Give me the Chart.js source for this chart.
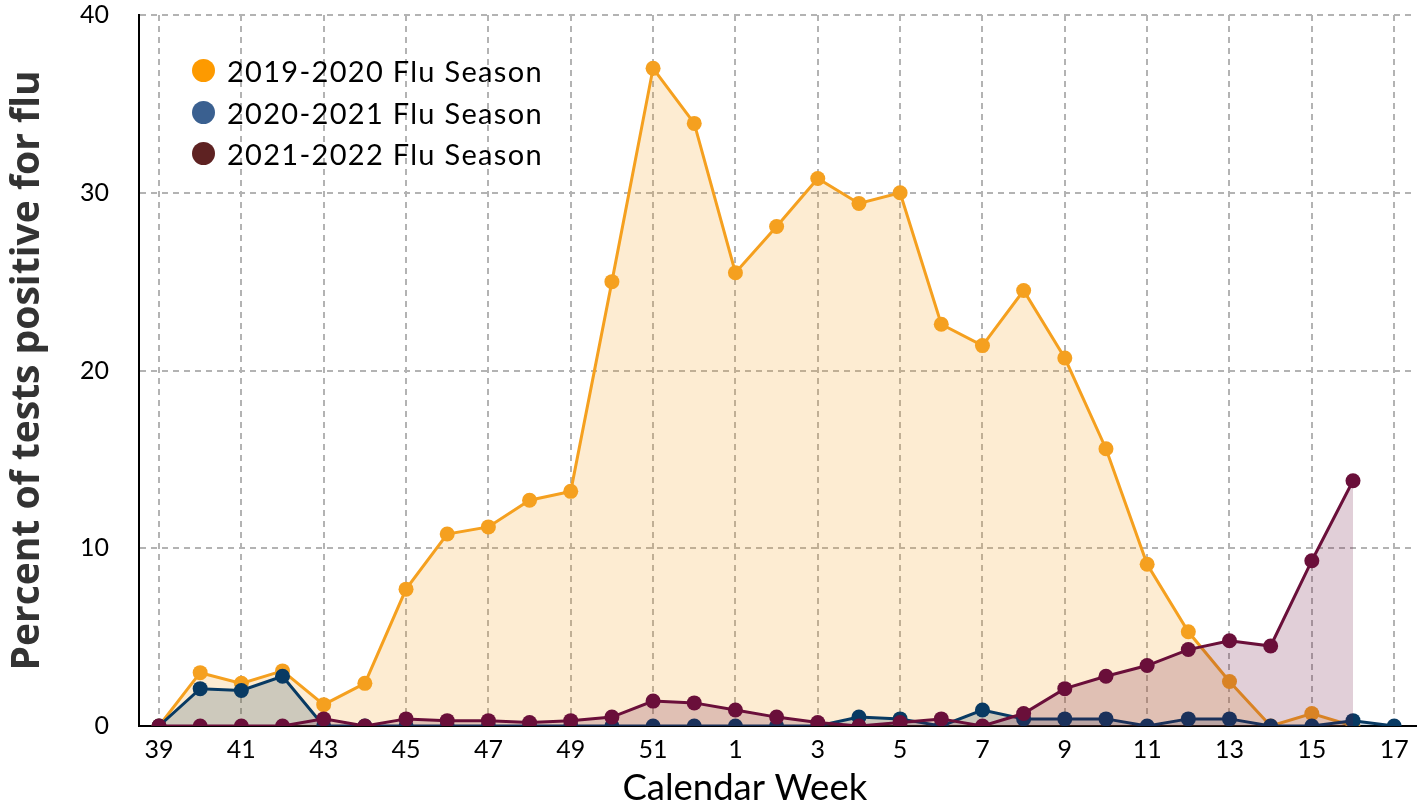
<!DOCTYPE html>
<html>
<head>
<meta charset="utf-8">
<script src="https://cdn.jsdelivr.net/npm/chart.js@4/dist/chart.umd.min.js"></script>
<style>
    body { margin: 0; background: #fff; }
    #chart_area { position: relative; width: 1424px; height: 806px; }
    #legend_area {
        position: absolute; left: 192px; top: 50px;
        font-family: Lato, sans-serif; font-size: 29px; letter-spacing: 1.3px; color: #000;
    }
    .legend_row { display: flex; align-items: center; height: 41.5px; }
    .legend_dot { width: 23px; height: 23px; border-radius: 50%; margin-right: 12px; }
</style>
</head>
<body>
<div id="chart_area">
    <canvas id="flu_chart"></canvas>
    <div id="legend_area"></div>
</div>
<script>
// Calendar weeks of the flu season (week 39 through week 17)
var weeks = [39, 40, 41, 42, 43, 44, 45, 46, 47, 48, 49, 50, 51, 52,
    1, 2, 3, 4, 5, 6, 7, 8, 9, 10, 11, 12, 13, 14, 15, 16, 17];

// Percent of tests positive for flu, per season
var season2019 = [0, 3.0, 2.4, 3.1, 1.2, 2.4, 7.7, 10.8, 11.2, 12.7, 13.2, 25.0, 37.0, 33.9,
    25.5, 28.1, 30.8, 29.4, 30.0, 22.6, 21.4, 24.5, 20.7, 15.6, 9.1, 5.3, 2.5, 0, 0.7, 0, null];
var season2020 = [0, 2.1, 2.0, 2.8, 0, 0, 0, 0, 0, 0, 0, 0, 0, 0,
    0, 0, 0, 0.5, 0.4, 0, 0.9, 0.4, 0.4, 0.4, 0, 0.4, 0.4, 0, 0, 0.3, 0];
var season2021 = [0, 0, 0, 0, 0.4, 0, 0.4, 0.3, 0.3, 0.2, 0.3, 0.5, 1.4, 1.3,
    0.9, 0.5, 0.2, 0, 0.2, 0.4, 0, 0.7, 2.1, 2.8, 3.4, 4.3, 4.8, 4.5, 9.3, 13.8, null];

var seasonNames = ["2019-2020 Flu Season", "2020-2021 Flu Season", "2021-2022 Flu Season"];
var lineColors = ["#f5a01f", "#083a63", "#6a0f3a"];
var fillColors = ["rgba(245,160,31,0.2)", "rgba(8,58,99,0.2)", "rgba(106,15,58,0.2)"];
var legendColors = ["#fd9a00", "#3a6090", "#5e2222"];

/**
 * Turns a list of values into points placed at the week index.
 */
function to_points(values) {
    return values.map(function (v, i) {
        return { x: i, y: v };
    });
}

/**
 * Builds the legend that sits in the top left of the plot.
 */
function build_legend() {
    const legendArea = document.getElementById("legend_area");
    for (var i = 0; i < seasonNames.length; i++) {
        const row = document.createElement("div");
        const dot = document.createElement("span");
        const text = document.createElement("span");
        row.className = "legend_row";
        dot.className = "legend_dot";
        dot.style.background = legendColors[i];
        text.innerText = seasonNames[i];
        row.appendChild(dot);
        row.appendChild(text);
        legendArea.appendChild(row);
    }
}

// Stops the tick labels from pushing the plot area inwards
function no_edge_padding(scale) {
    scale.paddingTop = 0;
    scale.paddingBottom = 0;
    scale.paddingLeft = 0;
    scale.paddingRight = 0;
}

var allSeasons = [season2019, season2020, season2021];
var datasets = [];
for (var i = 0; i < allSeasons.length; i++) {
    datasets.push({
        label: seasonNames[i],
        data: to_points(allSeasons[i]),
        borderColor: lineColors[i],
        backgroundColor: fillColors[i],
        pointBackgroundColor: lineColors[i],
        pointBorderWidth: 0,
        pointRadius: 7.5,
        borderWidth: 3,
        fill: "origin",
        // later seasons sit on top
        order: allSeasons.length - i
    });
}

new Chart("flu_chart", {
    type: "line",
    data: { datasets: datasets },
    options: {
        responsive: true,
        maintainAspectRatio: false,
        animation: false,
        layout: { padding: { top: 15, right: 8, left: 4, bottom: 0 } },
        plugins: {
            legend: { display: false },
            tooltip: { enabled: false },
            filler: { drawTime: "beforeDatasetDraw" }
        },
        scales: {
            x: {
                type: "linear",
                min: -0.486,
                max: 30.53,
                afterFit: no_edge_padding,
                grid: { color: "#b3b3b3", lineWidth: 2, drawTicks: false },
                border: { color: "#000", width: 2, dash: [6, 5] },
                ticks: {
                    stepSize: 2,
                    includeBounds: false,
                    autoSkip: false,
                    maxRotation: 0,
                    padding: 9,
                    color: "#000",
                    font: { family: "Lato", size: 25 },
                    callback: function (value) { return weeks[value]; }
                },
                title: {
                    display: true,
                    // trailing spaces nudge the title a little left, as in the original
                    text: "Calendar Week\u00a0\u00a0\u00a0\u00a0\u00a0\u00a0\u00a0",
                    color: "#000",
                    font: { family: "Lato", size: 36.5, lineHeight: 1 },
                    padding: { top: -4.5, bottom: 0 }
                }
            },
            y: {
                min: 0,
                max: 40,
                afterFit: no_edge_padding,
                grid: { color: "#b3b3b3", lineWidth: 2, drawTicks: false },
                border: { color: "#000", width: 2, dash: [6, 5] },
                ticks: {
                    stepSize: 10,
                    padding: 30,
                    color: "#000",
                    font: { family: "Lato", size: 25 }
                },
                title: {
                    display: true,
                    text: "Percent of tests positive for flu",
                    color: "#333",
                    font: { family: "Open Sans", size: 39, weight: "bold", lineHeight: 1 },
                    padding: { top: 4, bottom: 3 }
                }
            }
        }
    }
});

build_legend();
</script>
</body>
</html>
